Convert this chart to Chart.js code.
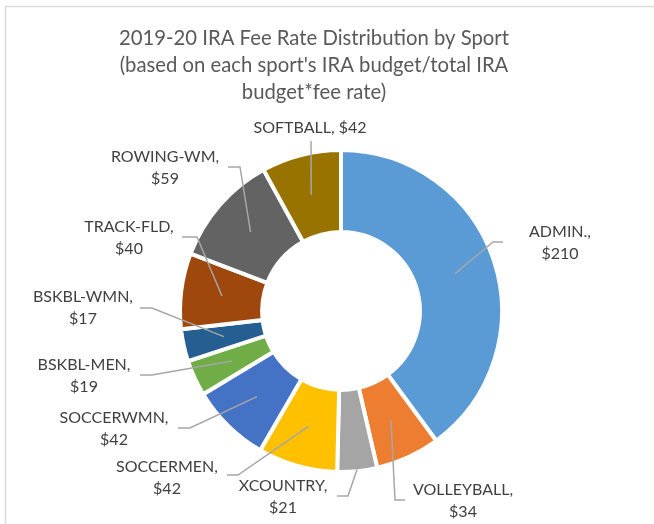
<!DOCTYPE html>
<html>
<head>
<meta charset="utf-8">
<script src="https://cdn.jsdelivr.net/npm/chart.js@4.4.1/dist/chart.umd.min.js"></script>
<style>
  html, body { margin: 0; padding: 0; background: #fff; overflow: hidden; }
  canvas { display: block; }
</style>
</head>
<body>
<canvas id="fee-chart" width="654" height="524"></canvas>
<script>
// data
var titleLines = ["2019-20 IRA Fee Rate Distribution by Sport", "(based on each sport's IRA budget/total IRA", "budget*fee rate)"];
var sports = ["ADMIN.", "VOLLEYBALL", "XCOUNTRY", "SOCCERMEN", "SOCCERWMN", "BSKBL-MEN", "BSKBL-WMN", "TRACK-FLD", "ROWING-WM", "SOFTBALL"];
var fees = [210, 34, 21, 42, 42, 19, 17, 40, 59, 42];
var colors = ["#5B9BD5", "#ED7D31", "#A5A5A5", "#FFC000", "#4472C4", "#70AD47", "#255E91", "#9E480E", "#636363", "#997300"];

// where each label sits (text centre, leader start, elbow), one per slice
var labelSpots = [
  { x: 560, y: 232, sx: 503, sy: 242, ex: 493, tip: "mid" },
  { x: 463, y: 490, sx: 405, sy: 500, ex: 395, tip: "mid" },
  { x: 283, y: 486, sx: 337, sy: 496, ex: 348, tip: "outer" },
  { x: 167, y: 467, sx: 227, sy: 475, ex: 238, tip: "mid" },
  { x: 114, y: 418, sx: 178, sy: 428, ex: 190, tip: "mid" },
  { x: 84, y: 365, sx: 140, sy: 375, ex: 152, tip: "mid" },
  { x: 83, y: 297, sx: 140, sy: 308, ex: 152, tip: "mid" },
  { x: 129, y: 227, sx: 182, sy: 237, ex: 197, tip: "mid" },
  { x: 165, y: 157, sx: 228, sy: 167, ex: 240, tip: "mid" },
  { x: 310, y: 128, sx: 311, sy: 141, ex: null, tip: "mid", oneLine: true }
];

var labelFont = "16px Lato";
var titleFont = "20.3px Lato";

var calloutPlugin = {
  id: "callouts",
  afterDraw: function (chart) {
    var ctx = chart.ctx;
    var arcs = chart.getDatasetMeta(0).data;
    ctx.save();

    // chart area frame (only top and left are inside the picture)
    ctx.strokeStyle = "#D9D9D9";
    ctx.lineWidth = 1.5;
    ctx.strokeRect(5.5, 6.5, 700, 600);

    // title
    ctx.fillStyle = "#595959";
    ctx.font = titleFont;
    ctx.textAlign = "center";
    ctx.textBaseline = "middle";
    for (var t = 0; t < titleLines.length; t++) {
      ctx.fillText(titleLines[t], 314, 38 + t * 27);
    }

    // leader lines
    ctx.strokeStyle = "#A6A6A6";
    ctx.lineWidth = 1.5;
    for (var i = 0; i < arcs.length; i++) {
      var spot = labelSpots[i];
      var tip;
      if (spot.tip === "outer") {
        var p = arcs[i].getProps(["x", "y", "startAngle", "endAngle", "outerRadius"], true);
        var a = (p.startAngle + p.endAngle) / 2;
        tip = { x: p.x + Math.cos(a) * (p.outerRadius - 2), y: p.y + Math.sin(a) * (p.outerRadius - 2) };
      } else {
        tip = arcs[i].getCenterPoint(true);
      }
      ctx.beginPath();
      ctx.moveTo(spot.sx, spot.sy);
      if (spot.ex !== null) ctx.lineTo(spot.ex, spot.sy);
      ctx.lineTo(tip.x, tip.y);
      ctx.stroke();
    }

    // label texts
    ctx.fillStyle = "#404040";
    ctx.font = labelFont;
    for (var j = 0; j < sports.length; j++) {
      var s = labelSpots[j];
      if (s.oneLine) {
        ctx.fillText(sports[j] + ", $" + fees[j], s.x, s.y);
      } else {
        ctx.fillText(sports[j] + ",", s.x, s.y);
        ctx.fillText("$" + fees[j], s.x, s.y + 22);
      }
    }
    ctx.restore();
  }
};

new Chart(document.getElementById("fee-chart"), {
  type: "doughnut",
  data: {
    labels: sports,
    datasets: [{
      data: fees,
      backgroundColor: colors,
      borderColor: "#FFFFFF",
      borderWidth: 4,
      borderJoinStyle: "miter"
    }]
  },
  options: {
    responsive: false,
    animation: false,
    radius: 161,
    cutout: "49%",
    layout: { padding: { left: 182, right: 154, top: 152, bottom: 54 } },
    plugins: {
      legend: { display: false },
      tooltip: { enabled: false },
      title: { display: false }
    }
  },
  plugins: [calloutPlugin]
});
</script>
</body>
</html>
